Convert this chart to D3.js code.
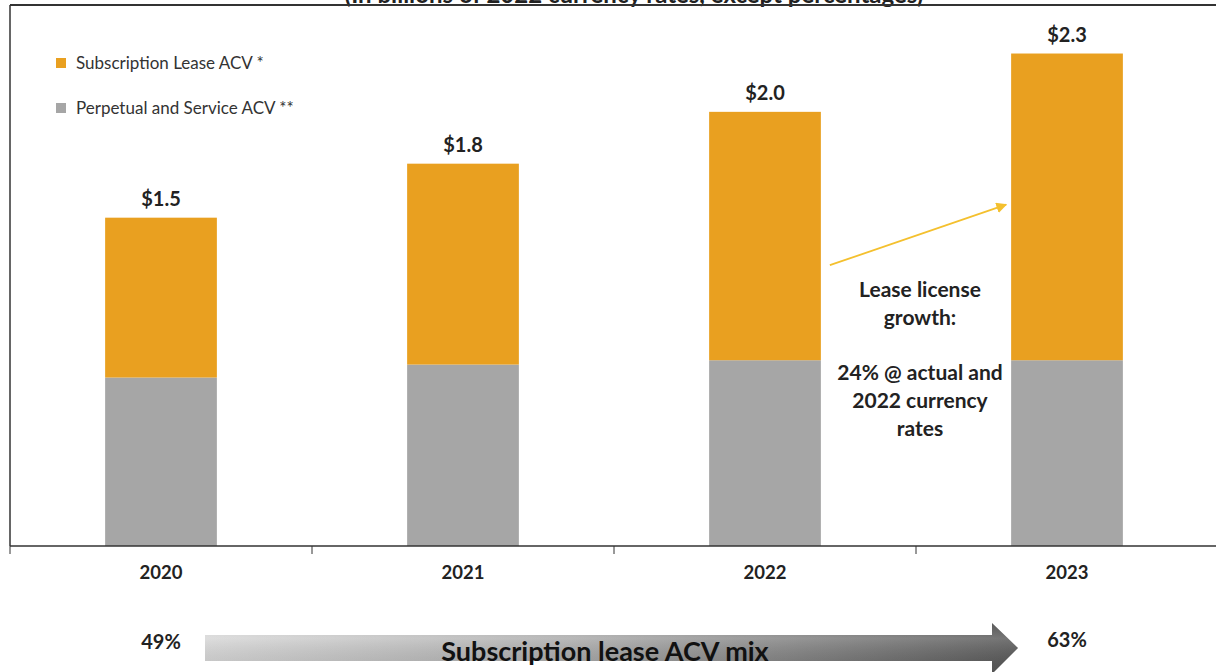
<!DOCTYPE html>
<html>
<head>
<meta charset="utf-8">
<script src="https://cdn.jsdelivr.net/npm/d3@7"></script>
<style>
  body { margin: 0; background: #fff; }
  text { font-family: Lato, "Noto Sans", sans-serif; }
</style>
</head>
<body>
<div id="chart"></div>
<script>
// Chart data
const years = ["2020", "2021", "2022", "2023"];
const perpetual = [0.78, 0.84, 0.86, 0.86];
const subscription = [0.74, 0.93, 1.15, 1.42];
const totalLabels = ["$1.5", "$1.8", "$2.0", "$2.3"];
const seriesNames = ["Subscription Lease ACV *", "Perpetual and Service ACV **"];
const mixStart = "49%";
const mixEnd = "63%";
const noteLines = ["Lease license", "growth:", "", "24% @ actual and", "2022 currency", "rates"];

const width = 1216;
const height = 672;
const orange = "#E9A020";
const grey = "#A6A6A6";

const svg = d3.select("#chart").append("svg")
    .attr("width", width)
    .attr("height", height);

// Scales
const x = d3.scaleBand()
    .domain(years)
    .range([10, 1218]);

const y = d3.scaleLinear()
    .domain([0, 2.5])
    .range([546, 6]);

const barW = x.bandwidth() * 0.37;
const cx = d => x(d) + x.bandwidth() / 2;

// Subtitle, cut off by the top edge as in the source slide
svg.append("text")
    .attr("x", 634)
    .attr("y", 3)
    .attr("text-anchor", "middle")
    .style("font-size", "24px")
    .style("font-weight", "bold")
    .attr("fill", "#222")
    .text("(In billions of 2022 currency rates, except percentages)");

// Frame lines
svg.append("line")
    .attr("x1", 10).attr("x2", width)
    .attr("y1", 5).attr("y2", 5)
    .attr("stroke", "#333").attr("stroke-width", 2);
svg.append("line")
    .attr("x1", 10).attr("x2", 10)
    .attr("y1", 5).attr("y2", y(0))
    .attr("stroke", "#333").attr("stroke-width", 1.5);

// Stacked bars
const rows = years.map((d, i) => ({ year: d, p: perpetual[i], s: subscription[i], label: totalLabels[i] }));

const bars = svg.append("g");
bars.selectAll(".perp")
    .data(rows)
    .enter().append("rect")
    .attr("x", d => cx(d.year) - barW / 2)
    .attr("width", barW)
    .attr("y", d => y(d.p))
    .attr("height", d => y(0) - y(d.p))
    .attr("fill", grey);

bars.selectAll(".sub")
    .data(rows)
    .enter().append("rect")
    .attr("x", d => cx(d.year) - barW / 2)
    .attr("width", barW)
    .attr("y", d => y(d.p + d.s))
    .attr("height", d => y(d.p) - y(d.p + d.s))
    .attr("fill", orange);

bars.selectAll(".total")
    .data(rows)
    .enter().append("text")
    .attr("x", d => cx(d.year))
    .attr("y", d => y(d.p + d.s) - 12)
    .attr("text-anchor", "middle")
    .style("font-size", "20px")
    .style("font-weight", "bold")
    .attr("fill", "#222")
    .text(d => d.label);

// X axis with ticks at category boundaries
const axis = svg.append("g");
axis.append("line")
    .attr("x1", 10).attr("x2", width)
    .attr("y1", y(0)).attr("y2", y(0))
    .attr("stroke", "#333").attr("stroke-width", 1.5);
axis.selectAll(".tick")
    .data(years)
    .enter().append("line")
    .attr("x1", d => x(d)).attr("x2", d => x(d))
    .attr("y1", y(0)).attr("y2", y(0) + 8)
    .attr("stroke", "#333").attr("stroke-width", 1);
axis.selectAll(".lbl")
    .data(years)
    .enter().append("text")
    .attr("x", d => cx(d))
    .attr("y", y(0) + 33)
    .attr("text-anchor", "middle")
    .style("font-size", "18.5px")
    .style("font-weight", "bold")
    .attr("fill", "#222")
    .text(d => d);

// Legend
const legend = svg.append("g");
[orange, grey].forEach((c, i) => {
    legend.append("rect")
        .attr("x", 56).attr("y", 58 + i * 45)
        .attr("width", 10).attr("height", 10)
        .attr("fill", c);
    legend.append("text")
        .attr("x", 76).attr("y", 69 + i * 45)
        .style("font-size", "17px")
        .attr("fill", "#333")
        .text(seriesNames[i]);
});

// Growth annotation arrow
const defs = svg.append("defs");
defs.append("marker")
    .attr("id", "head")
    .attr("viewBox", "0 0 10 10")
    .attr("refX", 9).attr("refY", 5)
    .attr("markerWidth", 6).attr("markerHeight", 6)
    .attr("orient", "auto")
    .append("path")
    .attr("d", "M0,0L10,5L0,10z")
    .attr("fill", "#F4C02E");

svg.append("line")
    .attr("x1", cx("2022") + barW / 2 + 9)
    .attr("y1", y(1.30))
    .attr("x2", cx("2023") - barW / 2 - 5)
    .attr("y2", y(1.58))
    .attr("stroke", "#F4C02E")
    .attr("stroke-width", 1.8)
    .attr("marker-end", "url(#head)");

const noteX = (cx("2022") + cx("2023")) / 2 + 4;
svg.append("g").selectAll("text")
    .data(noteLines)
    .enter().append("text")
    .attr("x", noteX)
    .attr("y", (d, i) => 297 + i * 27.8)
    .attr("text-anchor", "middle")
    .style("font-size", "21px")
    .style("font-weight", "bold")
    .attr("fill", "#222")
    .text(d => d);

// Mix arrow at the bottom
const grad = defs.append("linearGradient")
    .attr("id", "mixGrad")
    .attr("x1", "0%").attr("x2", "100%")
    .attr("y1", "0%").attr("y2", "0%");
grad.append("stop").attr("offset", "0%").attr("stop-color", "#d6d6d6");
grad.append("stop").attr("offset", "45%").attr("stop-color", "#a9a9a9");
grad.append("stop").attr("offset", "100%").attr("stop-color", "#555");

const shade = defs.append("linearGradient")
    .attr("id", "mixShade")
    .attr("x1", "0%").attr("x2", "0%")
    .attr("y1", "0%").attr("y2", "100%");
shade.append("stop").attr("offset", "0%").attr("stop-color", "#fff").attr("stop-opacity", 0.0);
shade.append("stop").attr("offset", "30%").attr("stop-color", "#fff").attr("stop-opacity", 0.18);
shade.append("stop").attr("offset", "100%").attr("stop-color", "#000").attr("stop-opacity", 0.08);

const ax0 = cx("2020") + 44, ax1 = cx("2023") - 75, tip = cx("2023") - 49;
const arrowPath = d3.path();
arrowPath.moveTo(ax0, 635);
arrowPath.lineTo(ax1, 635);
arrowPath.lineTo(ax1, 623);
arrowPath.lineTo(tip, 648);
arrowPath.lineTo(ax1, 674);
arrowPath.lineTo(ax1, 661);
arrowPath.lineTo(ax0, 661);
arrowPath.closePath();

svg.append("path").attr("d", arrowPath.toString()).attr("fill", "url(#mixGrad)");
svg.append("path").attr("d", arrowPath.toString()).attr("fill", "url(#mixShade)");

svg.append("text")
    .attr("x", 605)
    .attr("y", 661)
    .attr("text-anchor", "middle")
    .style("font-size", "27px")
    .style("font-weight", "bold")
    .attr("fill", "#111")
    .text("Subscription lease ACV mix");

svg.append("text")
    .attr("x", cx("2020"))
    .attr("y", 649)
    .attr("text-anchor", "middle")
    .style("font-size", "20px")
    .style("font-weight", "bold")
    .attr("fill", "#222")
    .text(mixStart);

svg.append("text")
    .attr("x", cx("2023"))
    .attr("y", 647)
    .attr("text-anchor", "middle")
    .style("font-size", "20px")
    .style("font-weight", "bold")
    .attr("fill", "#222")
    .text(mixEnd);
</script>
</body>
</html>
